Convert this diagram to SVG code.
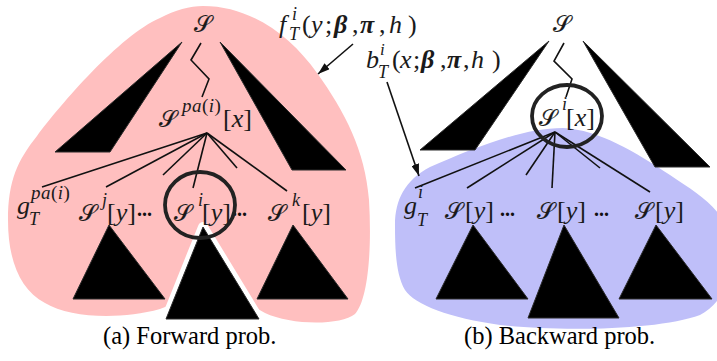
<svg xmlns="http://www.w3.org/2000/svg" width="717" height="361" viewBox="0 0 717 361">
<defs>
<style>
.m{font-family:"Liberation Serif","Times New Roman",serif;font-size:26px;fill:#1a1a1a}
.it{font-style:italic}
.cal{font-family:"DejaVu Serif","DejaVu Sans","Noto Sans",serif;font-style:normal;font-size:23px;stroke:#1a1a1a;stroke-width:0.2}
.s{font-size:18px}
.s7{font-size:17px}
.sp{font-size:19px;letter-spacing:0.5px}
.bi{font-weight:bold;font-style:italic}
.tri{fill:#000;stroke:#2a2a2a;stroke-width:1;stroke-linejoin:round}
.wedge{fill:#000;stroke:#2a2a2a;stroke-width:1}
.edge{stroke:#111;stroke-width:1.6;fill:none}
.arrow{stroke:#111;stroke-width:1.6;fill:none;marker-end:url(#ah)}
.ring{fill:none;stroke:#222;stroke-width:3.8}
.cap{font-family:"Liberation Serif","Times New Roman",serif;font-size:24.5px;fill:#000}
.dots{font-family:"Liberation Serif",serif;font-size:20px;font-weight:bold;fill:#111}
</style>
<marker id="ah" viewBox="0 0 12 8" refX="12" refY="4" markerWidth="12" markerHeight="8" markerUnits="userSpaceOnUse" orient="auto">
<path d="M0,0 L12,4 L0,8 z" fill="#111"/>
</marker>
</defs>
<rect width="717" height="361" fill="#fff"/>

<g id="regions">
<path id="forward-region" fill="#ffbfbf" d="M203,6 C250,6 290,35 317,73 C345,112 365,150 369,200 C372,250 368,300 355,314 C340,326 290,325 265,313 C245,303 235,288 220,270 C200,290 185,300 160,309 C120,320 70,318 45,303 C20,290 8,260 8,220 C8,180 18,160 37,136 C60,105 120,35 160,18 C175,10 190,6 203,6 Z"/>
<path id="backward-region" fill="#bfbff9" d="M395,225 C395,200 405,180 430,167 C470,150 520,128 563,128 C600,130 635,152 670,175 C700,195 725,210 730,240 C735,280 720,305 700,315 C660,330 560,332 500,325 C450,318 415,305 405,290 C396,275 395,250 395,225 Z"/>
</g>

<g id="left-tree">
<g id="left-wedge-l"><polygon class="wedge" points="182,42 55,152 110,152"/></g>
<g id="left-wedge-r"><polygon class="wedge" points="220,42 346,170 292,170"/></g>
<g id="left-sub-j"><polygon class="tri" points="109,225 73,299 165,299"/></g>
<g id="left-sub-i"><polygon points="203,227 166,319 259,319" fill="#fff" stroke="#fff" stroke-width="10" stroke-linejoin="round"/><polygon class="tri" points="203,227 166,319 259,319"/></g>
<g id="left-sub-k"><polygon class="tri" points="293,225 257,299 348,299"/></g>
</g>

<g id="right-tree">
<g id="right-wedge-l"><polygon class="wedge" points="549,41 420,150 475,150"/></g>
<g id="right-wedge-r"><polygon class="wedge" points="583,41 710,167 655,167"/></g>
<g id="right-sub-1"><polygon class="tri" points="473,225 436,299 528,299"/></g>
<g id="right-sub-2"><polygon class="tri" points="564,225 528,318 619,318"/></g>
<g id="right-sub-3"><polygon class="tri" points="656,225 619,299 712,299"/></g>
</g>

<g id="connectors">
<polyline class="edge" points="201,43 191,60 209,79 202,97"/>
<line class="edge" x1="207" y1="133" x2="42" y2="187"/>
<line class="edge" x1="207" y1="133" x2="106" y2="187"/>
<line class="edge" x1="207" y1="133" x2="163" y2="175"/>
<line class="edge" x1="207" y1="133" x2="193" y2="188"/>
<line class="edge" x1="207" y1="133" x2="237" y2="168"/>
<line class="edge" x1="207" y1="133" x2="287" y2="191"/>
<polyline class="edge" points="564,43 554,61 572,79 566,97"/>
<line class="edge" x1="555" y1="132" x2="415" y2="188"/>
<line class="edge" x1="555" y1="132" x2="467" y2="188"/>
<line class="edge" x1="555" y1="132" x2="526" y2="175"/>
<line class="edge" x1="555" y1="132" x2="552" y2="188"/>
<line class="edge" x1="555" y1="132" x2="600" y2="168"/>
<line class="edge" x1="555" y1="132" x2="650" y2="192"/>
<line class="arrow" x1="353" y1="44" x2="318" y2="74"/>
<line class="arrow" x1="387" y1="82" x2="419" y2="176"/>
</g>

<g id="left-labels">
<g id="left-root"><text class="m cal" x="203" y="32" text-anchor="middle">𝒮</text></g>
<g id="left-parent"><text class="m" y="127"><tspan class="cal" x="159">𝒮</tspan><tspan class="sp it" x="182" y="112">pa</tspan><tspan class="sp">(</tspan><tspan class="sp it">i</tspan><tspan class="sp">)</tspan><tspan x="223" y="127">[</tspan><tspan class="it">x</tspan><tspan>]</tspan></text></g>
<g id="left-g"><text class="m"><tspan class="it" x="17" y="214">g</tspan><tspan class="sp it" x="31" y="199">pa</tspan><tspan class="sp">(</tspan><tspan class="sp it">i</tspan><tspan class="sp">)</tspan><tspan class="s it" x="29" y="225">T</tspan></text></g>
<g id="left-Sj"><text class="m" y="221"><tspan class="cal" x="79">𝒮</tspan><tspan class="s it" x="102" y="206">j</tspan><tspan x="107" y="221">[</tspan><tspan class="it">y</tspan><tspan>]</tspan></text></g>
<text class="dots" x="137" y="216">...</text>
<g id="left-Si"><text class="m" y="221"><tspan class="cal" x="174">𝒮</tspan><tspan class="s it" x="198" y="206">i</tspan><tspan x="202" y="221">[</tspan><tspan class="it">y</tspan><tspan>]</tspan></text></g>
<text class="dots" x="232" y="216">...</text>
<g id="left-Sk"><text class="m" y="221"><tspan class="cal" x="268">𝒮</tspan><tspan class="s it" x="292" y="206">k</tspan><tspan x="302" y="221">[</tspan><tspan class="it">y</tspan><tspan>]</tspan></text></g>
<ellipse class="ring" cx="200" cy="205" rx="35" ry="33"/>
<g id="f-label"><text class="m"><tspan class="it" x="279" y="33">f</tspan><tspan class="s it" x="292" y="20">i</tspan><tspan class="s it" x="289" y="40">T</tspan><tspan x="302" y="33">(</tspan><tspan class="it" x="311">y</tspan><tspan x="325">;</tspan><tspan class="bi" x="334">β</tspan><tspan x="352">,</tspan><tspan class="bi" x="360">π</tspan><tspan x="379">,</tspan><tspan class="it" x="389">h</tspan><tspan x="408">)</tspan></text></g>
<text class="cap" x="103" y="344">(a) Forward prob.</text>
</g>

<g id="right-labels">
<g id="right-root"><text class="m cal" x="562" y="32" text-anchor="middle">𝒮</text></g>
<g id="right-node"><text class="m" y="126"><tspan class="cal" x="539">𝒮</tspan><tspan class="s it" x="562" y="110">i</tspan><tspan x="566" y="126">[</tspan><tspan class="it">x</tspan><tspan>]</tspan></text></g>
<ellipse class="ring" cx="567" cy="116" rx="35" ry="31"/>
<g id="right-g"><text class="m"><tspan class="it" x="404" y="214">g</tspan><tspan class="s it" x="418" y="198">i</tspan><tspan class="s it" x="417" y="226">T</tspan></text></g>
<g id="right-S1"><text class="m" y="219"><tspan class="cal" x="445">𝒮</tspan><tspan x="465">[</tspan><tspan class="it">y</tspan><tspan>]</tspan></text></g>
<text class="dots" x="500" y="216">...</text>
<g id="right-S2"><text class="m" y="219"><tspan class="cal" x="537">𝒮</tspan><tspan x="557">[</tspan><tspan class="it">y</tspan><tspan>]</tspan></text></g>
<text class="dots" x="594" y="216">...</text>
<g id="right-S3"><text class="m" y="219"><tspan class="cal" x="635">𝒮</tspan><tspan x="655">[</tspan><tspan class="it">y</tspan><tspan>]</tspan></text></g>
<g id="b-label"><text class="m"><tspan class="it" x="366" y="68">b</tspan><tspan class="s7 it" x="380" y="55">i</tspan><tspan class="s it" x="378" y="78">T</tspan><tspan x="392" y="68">(</tspan><tspan class="it" x="400">x</tspan><tspan x="413">;</tspan><tspan class="bi" x="421">β</tspan><tspan x="440">,</tspan><tspan class="bi" x="447">π</tspan><tspan x="463">,</tspan><tspan class="it" x="471">h</tspan><tspan x="492">)</tspan></text></g>
<text class="cap" x="464" y="344">(b) Backward prob.</text>
</g>
</svg>
